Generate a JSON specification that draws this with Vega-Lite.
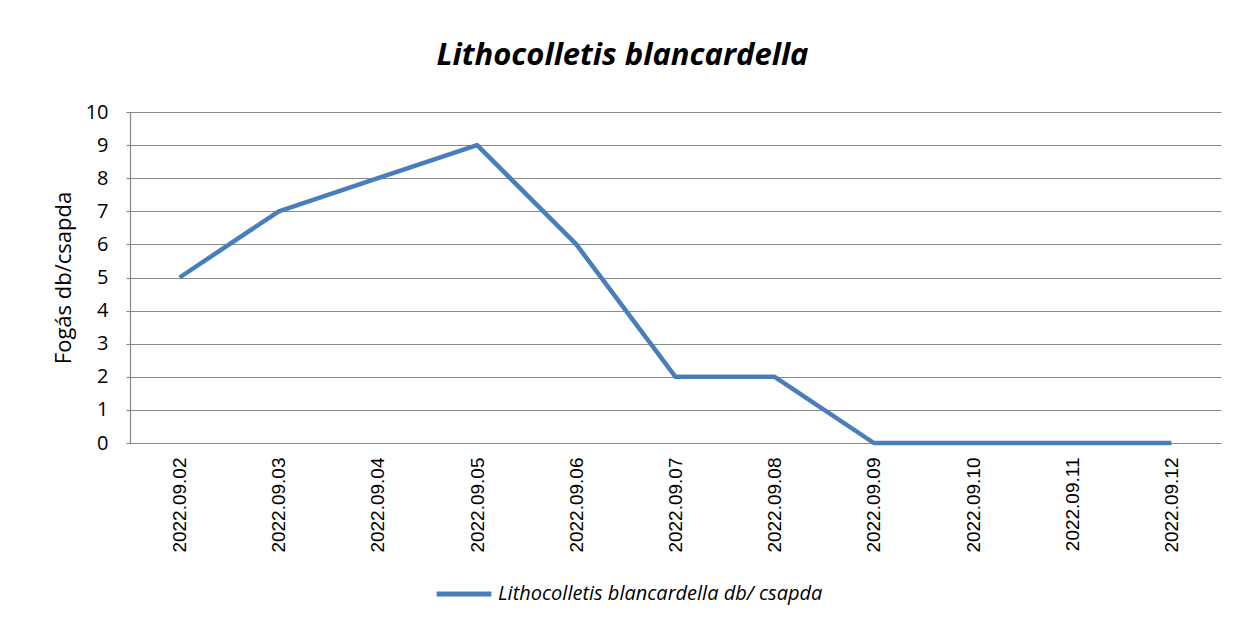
{
  "$schema": "https://vega.github.io/schema/vega-lite/v6.json",
  "width": 1091,
  "height": 331,
  "autosize": {"type": "none"},
  "padding": {"left": 130, "top": 112, "right": 17, "bottom": 181},
  "background": "white",
  "title": {
    "text": "Lithocolletis blancardella",
    "font": "Open Sans",
    "fontSize": 31,
    "fontStyle": "italic",
    "fontWeight": "bold",
    "color": "#000000",
    "anchor": "middle",
    "dx": -53,
    "offset": 30
  },
  "data": {
    "values": [
      {"date": "2022.09.02", "value": 5, "series": "Lithocolletis blancardella db/ csapda"},
      {"date": "2022.09.03", "value": 7, "series": "Lithocolletis blancardella db/ csapda"},
      {"date": "2022.09.04", "value": 8, "series": "Lithocolletis blancardella db/ csapda"},
      {"date": "2022.09.05", "value": 9, "series": "Lithocolletis blancardella db/ csapda"},
      {"date": "2022.09.06", "value": 6, "series": "Lithocolletis blancardella db/ csapda"},
      {"date": "2022.09.07", "value": 2, "series": "Lithocolletis blancardella db/ csapda"},
      {"date": "2022.09.08", "value": 2, "series": "Lithocolletis blancardella db/ csapda"},
      {"date": "2022.09.09", "value": 0, "series": "Lithocolletis blancardella db/ csapda"},
      {"date": "2022.09.10", "value": 0, "series": "Lithocolletis blancardella db/ csapda"},
      {"date": "2022.09.11", "value": 0, "series": "Lithocolletis blancardella db/ csapda"},
      {"date": "2022.09.12", "value": 0, "series": "Lithocolletis blancardella db/ csapda"}
    ]
  },
  "mark": {"type": "line", "strokeWidth": 4.5, "strokeCap": "butt", "strokeJoin": "round"},
  "encoding": {
    "x": {
      "field": "date",
      "type": "ordinal",
      "sort": null,
      "scale": {"type": "point", "padding": 0.5},
      "axis": {
        "title": null,
        "labelAngle": -90,
        "labelAlign": "right",
        "labelBaseline": "middle",
        "labelFont": "Liberation Sans",
        "labelFontSize": 19,
        "labelColor": "#000000",
        "labelPadding": 14,
        "ticks": false,
        "domain": true,
        "domainColor": "#888888",
        "domainWidth": 1.2,
        "grid": false
      }
    },
    "y": {
      "field": "value",
      "type": "quantitative",
      "scale": {"domain": [0, 10], "nice": false},
      "axis": {
        "title": "Fogás db/csapda",
        "titleFont": "Open Sans",
        "titleFontSize": 22,
        "titleFontWeight": "normal",
        "titleColor": "#000000",
        "titlePadding": 10,
        "values": [0, 1, 2, 3, 4, 5, 6, 7, 8, 9, 10],
        "labelFont": "Open Sans",
        "labelFontSize": 20,
        "labelColor": "#000000",
        "labelPadding": 18,
        "ticks": true,
        "tickSize": 4,
        "tickColor": "#888888",
        "tickWidth": 1.2,
        "domain": true,
        "domainColor": "#888888",
        "domainWidth": 1.2,
        "grid": true,
        "gridColor": "#888888",
        "gridWidth": 1.2
      }
    },
    "color": {
      "field": "series",
      "type": "nominal",
      "scale": {"range": ["#4A7EBB"]},
      "legend": {
        "title": null,
        "orient": "none",
        "legendX": 304,
        "legendY": 452,
        "symbolType": "stroke",
        "symbolStrokeWidth": 5,
        "symbolSize": 3000,
        "labelFont": "Open Sans",
        "labelFontSize": 20,
        "labelFontStyle": "italic",
        "labelColor": "#000000",
        "labelOffset": 4,
        "labelLimit": 600
      }
    }
  },
  "config": {
    "view": {"stroke": null}
  }
}
